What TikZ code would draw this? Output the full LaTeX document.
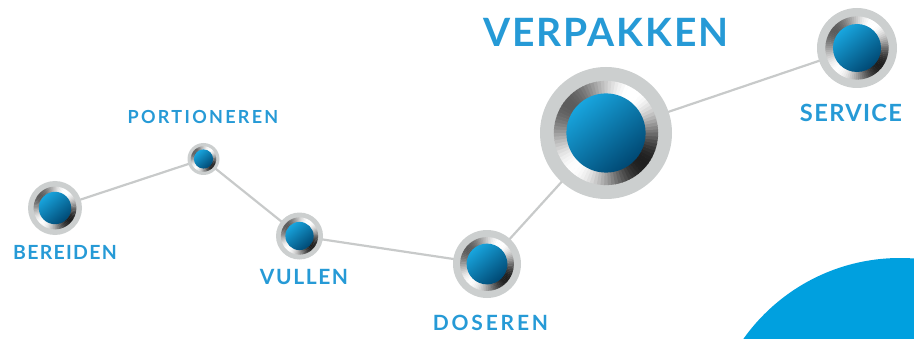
\documentclass[tikz,border=0pt]{standalone}
\usepackage{fontspec}
\setmainfont{Lato}
\usetikzlibrary{calc}
\definecolor{lblblue}{RGB}{38,154,214}
\definecolor{bigblue}{RGB}{0,160,223}
\definecolor{linkgray}{RGB}{200,202,202}
\definecolor{ringgray}{RGB}{204,207,207}
\definecolor{balltop}{RGB}{24,165,222}
\definecolor{ballmid}{RGB}{0,140,200}
\definecolor{ballbot}{RGB}{0,72,115}
\newcommand\drawknob[2]{%
  \fill[ringgray] (#1) circle[radius=#2];
  \pgfmathsetmacro\kro{0.79*#2}%
  \pgfmathsetmacro\kri{0.57*#2}%
  \foreach \a in {0,4,...,356}{%
    \pgfmathsetmacro\kb{max(0,min(100,62+38*cos(2*(\a-50))+12*sin(\a-45)))}%
    \fill[white!\kb!black] ($(#1)+(\a:\kro)$) arc[start angle=\a, end angle=\a+4.6, radius=\kro] -- ($(#1)+(\a+4.6:\kri)$) arc[start angle=\a+4.6, end angle=\a, radius=\kri] -- cycle;
  }%
  \shade[top color=balltop, middle color=ballmid, bottom color=ballbot, shading angle=40] (#1) circle[radius=0.6*#2];
}
\newcommand\lblfont[2]{\fontsize{#1}{#1}\selectfont\bfseries\addfontfeature{LetterSpace=#2}}
\begin{document}
\begin{tikzpicture}[x=1pt,y=1pt,
  lbl/.style={text=lblblue, anchor=base, inner sep=0pt},
  link/.style={draw=linkgray, line width=2.2pt}]
\useasboundingbox (0,0) rectangle (914,338);
\begin{scope}
  \clip (0,0) rectangle (914,338);
  \fill[bigblue] (900,-112) circle[radius=192];
\end{scope}
\coordinate (bereiden) at (55,130);
\coordinate (portioneren) at (203.5,179);
\coordinate (vullen) at (299.5,102);
\coordinate (doseren) at (487,74);
\coordinate (verpakken) at (606,205);
\coordinate (service) at (857,290);
\draw[link] (bereiden) -- (portioneren) -- (vullen) -- (doseren) -- (verpakken) -- (service);
\drawknob{bereiden}{27}
\drawknob{portioneren}{16}
\drawknob{vullen}{23.5}
\drawknob{doseren}{34}
\drawknob{verpakken}{66}
\drawknob{service}{40}
\node[lbl, font=\lblfont{39}{5.1}] (tverpakken) at (606,291) {VERPAKKEN};
\node[lbl, font=\lblfont{18}{12.8}] (tportioneren) at (203,214) {PORTIONEREN};
\node[lbl, font=\lblfont{19.5}{6.6}] (tbereiden) at (65,79) {BEREIDEN};
\node[lbl, font=\lblfont{21}{7.6}] (tvullen) at (304,54) {VULLEN};
\node[lbl, font=\lblfont{21}{13.5}] (tdoseren) at (490.5,8) {DOSEREN};
\node[lbl, font=\lblfont{23.7}{5.6}] (tservice) at (851,216) {SERVICE};
\end{tikzpicture}
\end{document}
